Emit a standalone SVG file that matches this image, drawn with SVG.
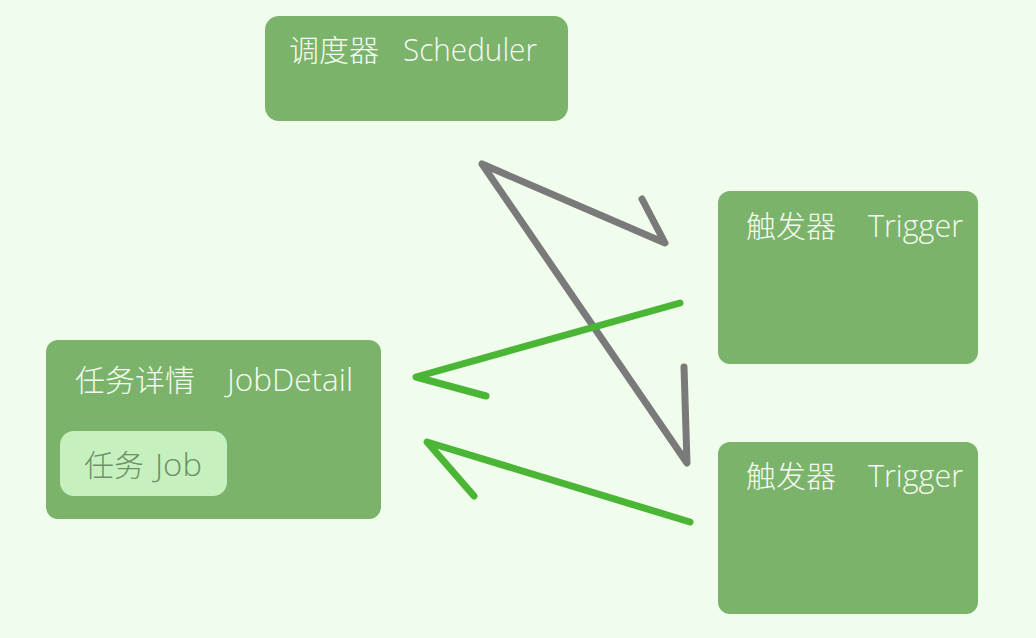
<svg xmlns="http://www.w3.org/2000/svg" width="1036" height="638" viewBox="0 0 1036 638">
<style>
.box{fill:#7BB36B}
.inner{fill:#C6F1BE}
.t{font-family:"Noto Sans CJK SC","Open Sans",sans-serif;font-size:30px;font-weight:300;fill:#F4FAF2}
.lat{font-family:"Open Sans","Noto Sans",sans-serif;font-weight:300;font-size:31px}
.tj{fill:#6F8F68}
.gray{fill:none;stroke:#7A7A7A;stroke-width:7;stroke-linecap:round;stroke-linejoin:round}
.green{fill:none;stroke:#4BB536;stroke-width:7;stroke-linecap:round;stroke-linejoin:round}
</style>
<rect width="1036" height="638" fill="#F0FCEC"/>
<g id="scheduler">
<rect class="box" x="265" y="16" width="303" height="105" rx="14"/>
<text class="t" y="61"><tspan x="289">调度器</tspan><tspan class="lat" x="403" textLength="134" lengthAdjust="spacingAndGlyphs">Scheduler</tspan></text>
</g>
<g id="trigger1">
<rect class="box" x="718" y="191" width="260" height="173" rx="12"/>
<text class="t" y="237"><tspan x="746">触发器</tspan><tspan class="lat" x="868" textLength="95" lengthAdjust="spacingAndGlyphs">Trigger</tspan></text>
</g>
<g id="trigger2">
<rect class="box" x="718" y="442" width="260" height="172" rx="12"/>
<text class="t" y="487"><tspan x="746">触发器</tspan><tspan class="lat" x="868" textLength="95" lengthAdjust="spacingAndGlyphs">Trigger</tspan></text>
</g>
<g id="jobdetail">
<rect class="box" x="46" y="340" width="335" height="179" rx="12"/>
<text class="t" y="391"><tspan x="75">任务详情</tspan><tspan class="lat" x="227" textLength="126" lengthAdjust="spacingAndGlyphs">JobDetail</tspan></text>
</g>
<g id="job">
<rect class="inner" x="60" y="431" width="167" height="65" rx="14"/>
<text class="t tj" y="476"><tspan x="84">任务</tspan><tspan class="lat" x="155" textLength="47" lengthAdjust="spacingAndGlyphs">Job</tspan></text>
</g>
<g id="connectors">
<polyline class="gray" points="642,199 665,243 482,164 687,463 684,367"/>
<polyline class="green" points="680,303 416,377 486,396"/>
<polyline class="green" points="690,522 427,442 474,496"/>
</g>
</svg>
